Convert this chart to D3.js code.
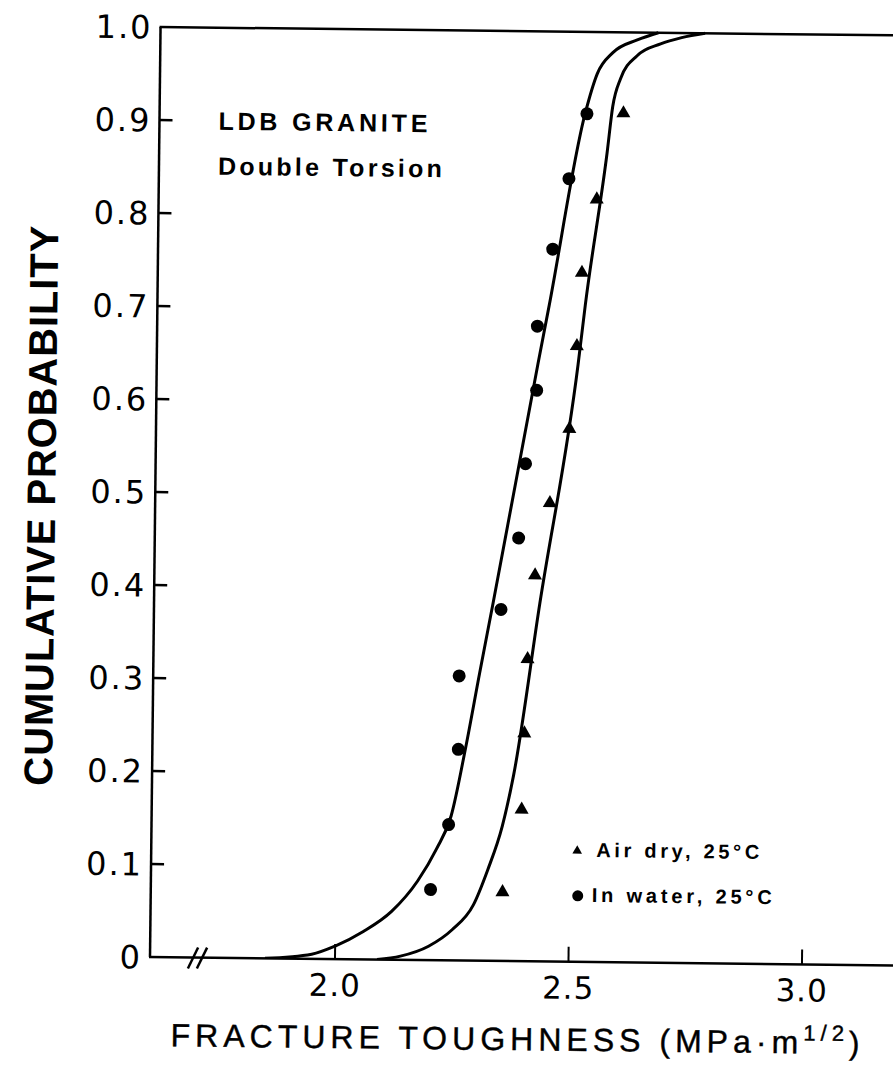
<!DOCTYPE html>
<html>
<head>
<meta charset="utf-8">
<script src="https://cdn.jsdelivr.net/npm/d3@7"></script>
<style>
  html, body { margin: 0; padding: 0; background: #fff; }
  svg { display: block; }
</style>
</head>
<body>
<div class="chart"></div>
<script>
// tick values and labels
const yTicks = [0, 0.1, 0.2, 0.3, 0.4, 0.5, 0.6, 0.7, 0.8, 0.9, 1.0];
const yTickLabels = ['0', '0.1', '0.2', '0.3', '0.4', '0.5', '0.6', '0.7', '0.8', '0.9', '1.0'];
const xTicks = [2.0, 2.5, 3.0];
const xTickLabels = ['2.0', '2.5', '3.0'];

// measured points: air dry (triangles)
const airK = [2.597, 2.542, 2.512, 2.503, 2.489, 2.449, 2.419, 2.405, 2.400, 2.396, 2.357];
const airP = [0.913, 0.820, 0.741, 0.662, 0.573, 0.493, 0.415, 0.325, 0.245, 0.163, 0.074];

// measured points: in water (circles)
const waterK = [2.519, 2.482, 2.449, 2.418, 2.418, 2.396, 2.383, 2.347, 2.259, 2.259, 2.240, 2.203];
const waterP = [0.912, 0.842, 0.766, 0.683, 0.614, 0.535, 0.455, 0.378, 0.306, 0.227, 0.146, 0.076];

// fitted curves
const waterCurveK = [1.85, 1.95, 2.0, 2.06, 2.12, 2.175, 2.215, 2.245, 2.275, 2.303, 2.33, 2.42, 2.443, 2.515, 2.54, 2.573, 2.625, 2.67];
const waterCurveP = [0, 0.005, 0.014, 0.03, 0.052, 0.085, 0.12, 0.155, 0.23, 0.31, 0.385, 0.642, 0.706, 0.912, 0.955, 0.978, 0.992, 1.0];
const airCurveK = [2.09, 2.14, 2.2, 2.25, 2.295, 2.325, 2.355, 2.378, 2.43, 2.506, 2.52, 2.563, 2.574, 2.59, 2.625, 2.675, 2.72, 2.77];
const airCurveP = [0, 0.004, 0.015, 0.033, 0.06, 0.098, 0.145, 0.2, 0.385, 0.642, 0.706, 0.87, 0.92, 0.95, 0.975, 0.988, 0.995, 1.0];

const W = 893, H = 1072;
const x0 = 150, y0 = 957;   // origin of the plot frame
const tilt = 0.65;          // the scan is slightly rotated

const svg = d3.select('.chart').append('svg')
    .attr('width', W)
    .attr('height', H);

const g = svg.append('g')
    .attr('transform', 'rotate(' + tilt + ',' + x0 + ',' + y0 + ')')
    .style('font-family', '"DejaVu Sans", sans-serif');

const x = d3.scaleLinear().domain([2.0, 3.0]).range([335, 802]);
const y = d3.scaleLinear().domain([0, 1]).range([y0, 27]);

// frame: left axis, top line, bottom axis
g.append('line')
    .attr('x1', x0).attr('y1', y(0)).attr('x2', x0).attr('y2', y(1))
    .attr('stroke', '#000').attr('stroke-width', 2.5);
g.append('line')
    .attr('x1', x0 - 1).attr('y1', y(1)).attr('x2', W + 20).attr('y2', y(1))
    .attr('stroke', '#000').attr('stroke-width', 2.5);
g.append('line')
    .attr('x1', x0 - 1).attr('y1', y(0)).attr('x2', W + 20).attr('y2', y(0))
    .attr('stroke', '#000').attr('stroke-width', 2.5);

// y ticks (inward)
g.selectAll('.ytick')
    .data(yTicks.filter(d => d > 0 && d < 1))
    .enter().append('line')
    .attr('x1', x0).attr('x2', x0 + 13)
    .attr('y1', d => y(d)).attr('y2', d => y(d))
    .attr('stroke', '#000').attr('stroke-width', 2.5);

g.selectAll('.ylab')
    .data(yTicks)
    .enter().append('text')
    .attr('x', x0 - 8)
    .attr('y', d => y(d))
    .attr('dy', '0.36em')
    .attr('text-anchor', 'end')
    .style('font-size', '32px')
    .style('letter-spacing', '2px')
    .text((d, i) => yTickLabels[i]);

// x ticks (inward)
g.selectAll('.xtick')
    .data(xTicks)
    .enter().append('line')
    .attr('x1', d => x(d)).attr('x2', d => x(d))
    .attr('y1', y0).attr('y2', y0 - 15)
    .attr('stroke', '#000').attr('stroke-width', 2);

g.selectAll('.xlab')
    .data(xTicks)
    .enter().append('text')
    .attr('x', d => x(d))
    .attr('y', 994)
    .attr('text-anchor', 'middle')
    .style('font-size', '31px')
    .style('letter-spacing', '1px')
    .text((d, i) => xTickLabels[i]);

// axis break
[193, 202].forEach(bx => {
    g.append('line')
        .attr('x1', bx - 5).attr('y1', y0 + 11)
        .attr('x2', bx + 5).attr('y2', y0 - 10)
        .attr('stroke', '#000').attr('stroke-width', 2.5);
});

// curves
g.append('clipPath').attr('id', 'plotclip')
    .append('rect').attr('x', x0).attr('y', y(1) - 2).attr('width', W).attr('height', y0 - y(1) + 2);

const line = d3.line()
    .x(d => x(d[0]))
    .y(d => y(d[1]))
    .curve(d3.curveMonotoneX);

[[waterCurveK, waterCurveP], [airCurveK, airCurveP]].forEach(c => {
    g.append('path')
        .datum(c[0].map((k, i) => [k, c[1][i]]))
        .attr('d', line)
        .attr('fill', 'none')
        .attr('stroke', '#000')
        .attr('stroke-width', 3)
        .attr('clip-path', 'url(#plotclip)');
});

// markers
g.selectAll('.water')
    .data(waterK.map((k, i) => [k, waterP[i]]))
    .enter().append('circle')
    .attr('cx', d => x(d[0]))
    .attr('cy', d => y(d[1]))
    .attr('r', 6.5)
    .attr('fill', '#000');

g.selectAll('.air')
    .data(airK.map((k, i) => [k, airP[i]]))
    .enter().append('path')
    .attr('d', d3.symbol(d3.symbolTriangle).size(85))
    .attr('transform', d => 'translate(' + x(d[0]) + ',' + y(d[1]) + ')')
    .attr('fill', '#000');

// annotation
g.append('text')
    .attr('x', 209).attr('y', 129)
    .attr('textLength', 209).attr('lengthAdjust', 'spacing')
    .style('font-family', '"Liberation Sans", Arial, sans-serif')
    .style('font-size', '25px').style('font-weight', 'bold')
    .text('LDB GRANITE');
g.append('text')
    .attr('x', 209).attr('y', 174)
    .attr('textLength', 224).attr('lengthAdjust', 'spacing')
    .style('font-family', '"Liberation Sans", Arial, sans-serif')
    .style('font-size', '25px').style('font-weight', 'bold')
    .text('Double Torsion');

// legend
g.append('path')
    .attr('d', d3.symbol(d3.symbolTriangle).size(40))
    .attr('transform', 'translate(576,846)')
    .attr('fill', '#000');
g.append('text')
    .attr('x', 595).attr('y', 852)
    .attr('textLength', 163).attr('lengthAdjust', 'spacing')
    .style('font-family', '"Liberation Sans", Arial, sans-serif')
    .style('font-size', '20px').style('font-weight', 'bold')
    .text('Air dry, 25\u00B0C');
g.append('circle')
    .attr('cx', 577).attr('cy', 891).attr('r', 5.5)
    .attr('fill', '#000');
g.append('text')
    .attr('x', 591).attr('y', 897)
    .attr('textLength', 180).attr('lengthAdjust', 'spacing')
    .style('font-family', '"Liberation Sans", Arial, sans-serif')
    .style('font-size', '20px').style('font-weight', 'bold')
    .text('In water, 25\u00B0C');

// axis titles
const xt = g.append('text')
    .attr('x', 516).attr('y', 1046)
    .attr('text-anchor', 'middle')
    .attr('textLength', 689).attr('lengthAdjust', 'spacing')
    .style('font-family', '"Liberation Sans", Arial, sans-serif')
    .style('font-size', '32px')
    .style('stroke', '#000').style('stroke-width', 0.4);
xt.append('tspan').text('FRACTURE TOUGHNESS (MPa\u00B7m');
xt.append('tspan').attr('dy', -13).style('font-size', '22px').text('1/2');
xt.append('tspan').attr('dy', 13).text(')');

g.append('text')
    .attr('transform', 'translate(50,507) rotate(-90)')
    .attr('text-anchor', 'middle')
    .attr('textLength', 560).attr('lengthAdjust', 'spacing')
    .style('font-family', '"Liberation Sans", Arial, sans-serif')
    .style('font-size', '40px').style('font-weight', 'bold')
    .text('CUMULATIVE PROBABILITY');
</script>
</body>
</html>
